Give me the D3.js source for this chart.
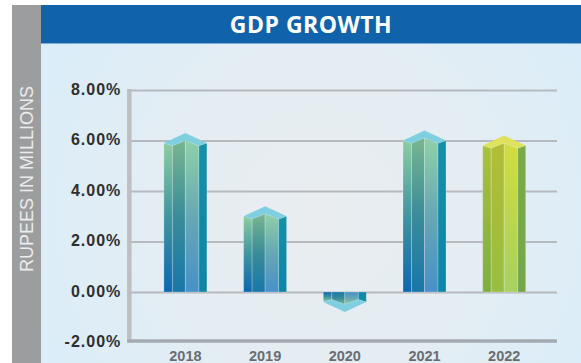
<!DOCTYPE html>
<html>
<head>
<meta charset="utf-8">
<script src="https://cdn.jsdelivr.net/npm/d3@7"></script>
<style>
  html, body { margin: 0; padding: 0; background: #ffffff; }
  svg { display: block; }
</style>
</head>
<body>
<script>
// GDP growth by year (percent)
const years = ["2018", "2019", "2020", "2021", "2022"];
const growth = [5.9, 3.0, -0.4, 6.0, 5.8];
const yTicks = [-2, 0, 2, 4, 6, 8];
const highlightYear = "2022";
const chartTitle = "GDP GROWTH";
const axisTitle = "RUPEES IN MILLIONS";

const W = 581, H = 363;
const svg = d3.select("body").append("svg")
  .attr("width", W).attr("height", H);
const defs = svg.append("defs");

// panel background: pale blue with a soft lighter glow in the middle
const bg = defs.append("radialGradient").attr("id", "panelGlow")
  .attr("gradientUnits", "userSpaceOnUse")
  .attr("cx", 320).attr("cy", 215).attr("r", 300);
bg.append("stop").attr("offset", 0).attr("stop-color", "#e9edf0");
bg.append("stop").attr("offset", 0.55).attr("stop-color", "#e4edf3");
bg.append("stop").attr("offset", 1).attr("stop-color", "#dbedf8");

svg.append("rect").attr("x", 12).attr("y", 5).attr("width", 29).attr("height", H - 5)
  .attr("fill", "#9c9d9f");
svg.append("rect").attr("x", 41).attr("y", 43.5).attr("width", W - 41).attr("height", H - 43.5)
  .attr("fill", "url(#panelGlow)");
svg.append("rect").attr("x", 41).attr("y", 5).attr("width", W - 41).attr("height", 38.5)
  .attr("fill", "#1062ab");

svg.append("text")
  .attr("x", 311).attr("y", 32.5)
  .attr("text-anchor", "middle")
  .attr("font-family", "'Open Sans', sans-serif")
  .attr("font-weight", 700)
  .attr("font-size", 23)
  .attr("letter-spacing", 0.5)
  .attr("fill", "#ffffff")
  .text(chartTitle);

svg.append("text")
  .attr("transform", "translate(33,179) rotate(-90)")
  .attr("text-anchor", "middle")
  .attr("font-family", "'Liberation Sans', Arial, sans-serif")
  .attr("font-size", 18)
  .attr("fill", "#ececec")
  .text(axisTitle);

// scales
const y = d3.scaleLinear().domain([-2, 8]).range([342.5, 90]);
const x = d3.scaleBand().domain(years)
  .range([145.55, 544.05])
  .paddingInner(0.4605)
  .paddingOuter(0.23025);

const plotLeft = 129.3, plotRight = 557;
const pct = d => (d < 0 ? "-" : "") + Math.abs(d).toFixed(2) + "%";

// gridlines + value labels
const yAxis = svg.append("g")
  .attr("transform", `translate(${plotLeft},0)`)
  .call(d3.axisLeft(y).tickValues(yTicks)
    .tickSize(-(plotRight - plotLeft))
    .tickPadding(8)
    .tickFormat(pct));
yAxis.select(".domain").remove();
yAxis.selectAll(".tick line")
  .attr("stroke", "#b6babe").attr("stroke-width", 2)
  .filter(d => d === -2).remove();
yAxis.selectAll(".tick text")
  .attr("dy", "0.27em")
  .attr("font-family", "'Liberation Sans', Arial, sans-serif")
  .attr("font-weight", 700)
  .attr("font-size", 16)
  .attr("letter-spacing", 1)
  .attr("fill", "#2e2e30");

// frame: left rail and floor
svg.append("line")
  .attr("x1", plotLeft).attr("x2", plotLeft)
  .attr("y1", y(8) - 1).attr("y2", y(-2))
  .attr("stroke", "#bcc0c3").attr("stroke-width", 4.5);
svg.append("line")
  .attr("x1", plotLeft - 2).attr("x2", plotRight)
  .attr("y1", y(-2) - 1.5).attr("y2", y(-2) - 1.5)
  .attr("stroke", "#a4aab0").attr("stroke-width", 3.5);

// year labels
const xAxis = svg.append("g")
  .attr("transform", `translate(0,${y(-2)})`)
  .call(d3.axisBottom(x).tickSize(0).tickPadding(8.5));
xAxis.select(".domain").remove();
xAxis.selectAll(".tick text")
  .attr("font-family", "'Liberation Sans', Arial, sans-serif")
  .attr("font-weight", 700)
  .attr("font-size", 14.5)
  .attr("fill", "#6a6c70");

// prism bar colours: [top, middle, bottom] for each facet
const palettes = {
  blue: {
    s1: ["#8ccda2", "#3f95a0", "#0c67b0"],
    s2: ["#78b690", "#3a8c9a", "#1877a9"],
    s3: ["#8fd1a8", "#66a8b4", "#4890c9"],
    side: ["#1590a8", "#118aa8", "#0f86a8"],
    cap: "#7fcfe0"
  },
  lime: {
    s1: ["#aac23e", "#95b640", "#7eae42"],
    s2: ["#b2bd36", "#a6bd3a", "#98bf40"],
    s3: ["#d2dd3e", "#bcd64e", "#a8d062"],
    side: ["#7aaa4a", "#78a84c", "#76a64c"],
    cap: "#dfe25c"
  }
};

function facetGradient(id, stops, flip) {
  const g = defs.append("linearGradient").attr("id", id)
    .attr("x1", 0).attr("x2", 0)
    .attr("y1", flip ? 1 : 0).attr("y2", flip ? 0 : 1);
  stops.forEach((c, i) => g.append("stop")
    .attr("offset", i / (stops.length - 1)).attr("stop-color", c));
  return `url(#${id})`;
}

const bars = svg.append("g");
years.forEach((yr, i) => {
  const v = growth[i];
  const pal = palettes[yr === highlightYear ? "lime" : "blue"];
  const neg = v < 0;
  const s = neg ? -1 : 1;
  const w = x.bandwidth();
  const x0 = x(yr);
  const y0 = y(0), yc = y(v);
  const a = x0 + w * 0.198, m = x0 + w * 0.5, b = x0 + w * 0.814, x1 = x0 + w;
  const yEdge = yc + 2.7 * s, yMid = yc - 2.5 * s, yApex = yc - 10 * s;

  const facets = [
    ["s1", [[x0, yc], [a, yEdge], [a, y0], [x0, y0]]],
    ["s2", [[a, yEdge], [m, yMid], [m, y0], [a, y0]]],
    ["s3", [[m, yMid], [b, yEdge], [b, y0], [m, y0]]],
    ["side", [[b, yEdge], [x1, yc], [x1, y0], [b, y0]]]
  ];
  const g = bars.append("g");
  facets.forEach(([k, pts]) => {
    g.append("polygon")
      .attr("points", pts.map(p => p.join(",")).join(" "))
      .attr("fill", facetGradient(`g${i}${k}`, pal[k], neg))
      .attr("stroke", "rgba(255,255,255,0.28)")
      .attr("stroke-width", 0.8);
  });
  g.append("polygon")
    .attr("points", [[x0, yc], [m, yApex], [x1, yc], [b, yEdge], [m, yMid], [a, yEdge]]
      .map(p => p.join(",")).join(" "))
    .attr("fill", pal.cap);
});
</script>
</body>
</html>
